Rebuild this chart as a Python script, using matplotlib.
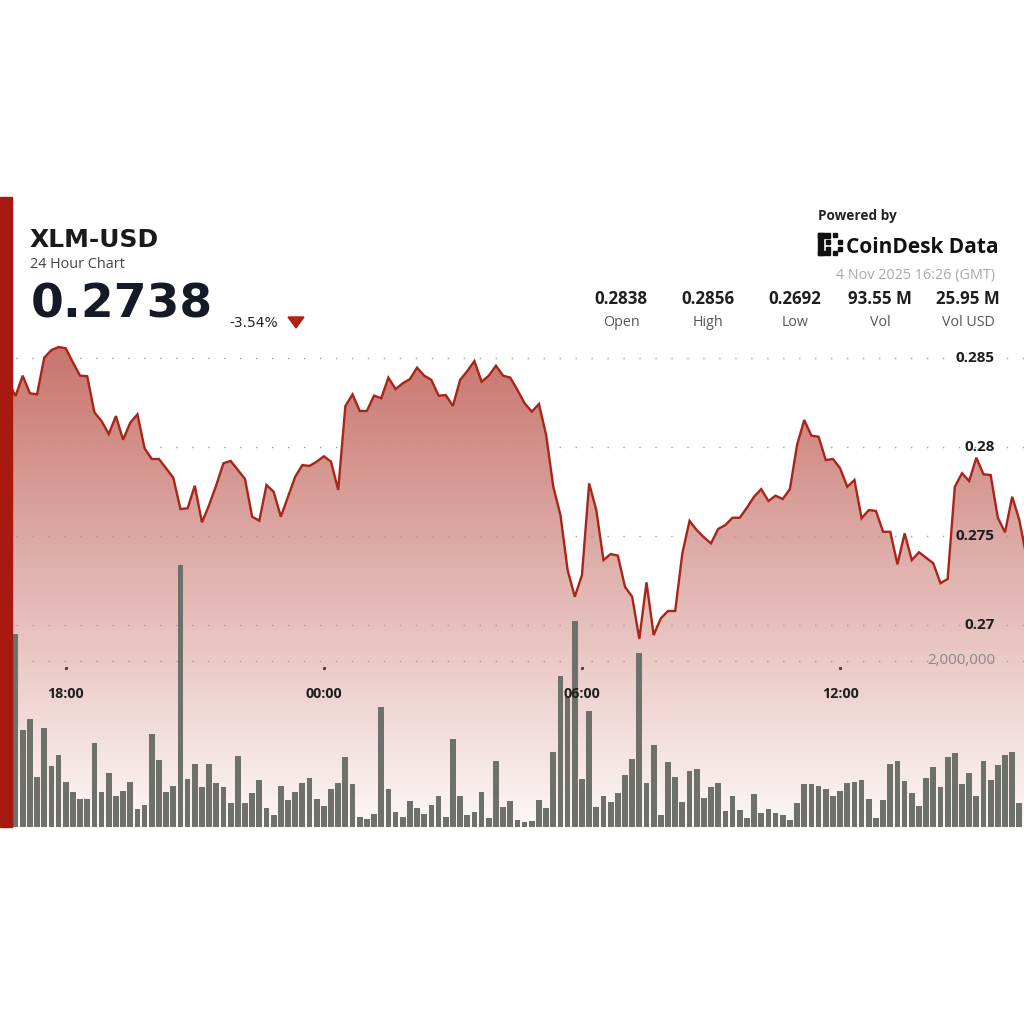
import numpy as np
import pandas as pd
import matplotlib.pyplot as plt
import matplotlib.transforms as mtransforms
from matplotlib.patches import Rectangle, Polygon

# 10 minute samples, 16:30 on 3 Nov to 16:20 on 4 Nov (GMT)
times = pd.date_range("2025-11-03 16:30", periods=144, freq="10min")

price = [
    0.28380, 0.28363, 0.28285, 0.28399, 0.28300, 0.28294, 0.28500, 0.28543, 0.28560, 0.28553,
    0.28474, 0.28399, 0.28396, 0.28193, 0.28144, 0.28071, 0.28172, 0.28039, 0.28135, 0.28182,
    0.27991, 0.27931, 0.27931, 0.27879, 0.27826, 0.27650, 0.27654, 0.27781, 0.27575, 0.27672,
    0.27785, 0.27907, 0.27920, 0.27869, 0.27819, 0.27607, 0.27584, 0.27785, 0.27747, 0.27607,
    0.27719, 0.27831, 0.27897, 0.27892, 0.27916, 0.27946, 0.27916, 0.27757, 0.28229, 0.28294,
    0.28201, 0.28201, 0.28287, 0.28272, 0.28388, 0.28324, 0.28356, 0.28380, 0.28444, 0.28399,
    0.28375, 0.28287, 0.28290, 0.28229, 0.28375, 0.28425, 0.28481, 0.28365, 0.28399, 0.28455,
    0.28399, 0.28388, 0.28319, 0.28244, 0.28197, 0.28240, 0.28066, 0.27775, 0.27616, 0.27307,
    0.27157, 0.27279, 0.27794, 0.27644, 0.27363, 0.27397, 0.27388, 0.27213, 0.27157, 0.26920,
    0.27238, 0.26942, 0.27036, 0.27077, 0.27077, 0.27401, 0.27583, 0.27532, 0.27491, 0.27457,
    0.27538, 0.27560, 0.27601, 0.27601, 0.27657, 0.27719, 0.27762, 0.27695, 0.27725, 0.27706,
    0.27762, 0.28010, 0.28150, 0.28062, 0.28056, 0.27925, 0.27931, 0.27879, 0.27775, 0.27813,
    0.27598, 0.27644, 0.27639, 0.27522, 0.27522, 0.27339, 0.27513, 0.27363, 0.27407, 0.27376,
    0.27345, 0.27233, 0.27257, 0.27775, 0.27851, 0.27807, 0.27938, 0.27845, 0.27841, 0.27601,
    0.27519, 0.27719, 0.27588, 0.27380,
]

volume = [
    1200000, 1807000, 2321000, 1166000, 1295000, 605000, 1187000, 737000, 862000, 538000,
    421000, 333000, 333000, 1010000, 421000, 649000, 376000, 433000, 545000, 213000,
    265000, 1122000, 802000, 421000, 497000, 3151000, 581000, 758000, 485000, 758000,
    529000, 477000, 289000, 857000, 289000, 412000, 569000, 228000, 141000, 493000,
    321000, 421000, 533000, 586000, 337000, 256000, 457000, 526000, 838000, 517000,
    124000, 93000, 156000, 1440000, 457000, 180000, 117000, 309000, 232000, 153000,
    261000, 376000, 120000, 1055000, 373000, 148000, 184000, 421000, 108000, 797000,
    237000, 316000, 84000, 60000, 69000, 325000, 225000, 906000, 1816000, 1567000,
    2477000, 577000, 1395000, 244000, 376000, 304000, 412000, 622000, 814000, 2089000,
    526000, 986000, 144000, 778000, 598000, 304000, 673000, 698000, 345000, 485000,
    533000, 189000, 376000, 204000, 105000, 393000, 165000, 213000, 168000, 144000,
    84000, 292000, 517000, 517000, 493000, 457000, 376000, 433000, 526000, 545000,
    562000, 337000, 108000, 325000, 758000, 794000, 557000, 409000, 249000, 586000,
    722000, 485000, 845000, 890000, 514000, 649000, 376000, 797000, 565000, 742000,
    866000, 906000, 292000, 500000,
]

price_ticks = [0.27, 0.275, 0.28, 0.285]
price_tick_labels = ["0.27", "0.275", "0.28", "0.285"]
vol_ticks = [2000000]
vol_tick_labels = ["2,000,000"]

symbol = "XLM-USD"
subtitle = "24 Hour Chart"
last_price = "0.2738"
change = "-3.54%"
timestamp = "4 Nov 2025 16:26 (GMT)"
stat_values = ["0.2838", "0.2856", "0.2692", "93.55 M", "25.95 M"]
stat_names = ["Open", "High", "Low", "Vol", "Vol USD"]
stat_x = [621, 708, 795, 880, 968]

W = H = 1024
def fx(px):
    return px / W
def fy(py):
    return 1 - py / H

x = np.arange(len(price))
x_lim = (-0.167, 142.65)
p_lim = (0.258635, 0.294028)
v_lim = (0, 7576000)
top_px, bot_px = 197, 827

fig = plt.figure(figsize=(10.24, 10.24), dpi=100)
fig.patch.set_facecolor("white")
rect = [0, fy(bot_px), 1, (bot_px - top_px) / H]

# background gradient + grid
ax = fig.add_axes(rect)
ax.set_xlim(*x_lim)
ax.set_ylim(*p_lim)
ax.axis("off")

n = 400
rows = (np.arange(n) + 0.5) / n
row_px = bot_px - rows * (bot_px - top_px)
alpha = np.interp(row_px, [345, bot_px], [0.74, 0.04])
grad = np.zeros((n, 1, 4))
grad[:, 0, 0] = 0.71
grad[:, 0, 1] = 0.26
grad[:, 0, 2] = 0.22
grad[:, 0, 3] = alpha
im = ax.imshow(grad, aspect="auto", origin="lower",
               extent=[x_lim[0], x_lim[1], p_lim[0], p_lim[1]], zorder=1)
verts = list(zip(x, price)) + [(x[-1], p_lim[0]), (x[0], p_lim[0])]
clip = Polygon(verts, closed=True, facecolor="none", edgecolor="none")
ax.add_patch(clip)
im.set_clip_path(clip)

grid_kw = dict(color="#a0a0a0", lw=1.0, ls=(0, (1, 10.5)), zorder=2)
for t in price_ticks:
    ax.axhline(t, **grid_kw)

# volume bars
axv = fig.add_axes(rect)
axv.set_xlim(*x_lim)
axv.set_ylim(*v_lim)
axv.axis("off")
for t in vol_ticks:
    axv.axhline(t, **grid_kw)
axv.bar(x, volume, width=0.8, color="#6e706b", zorder=3)

# price line
axl = fig.add_axes(rect)
axl.set_xlim(*x_lim)
axl.set_ylim(*p_lim)
axl.axis("off")
axl.plot(x, price, color="#a8251a", lw=1.7, zorder=4, solid_joinstyle="miter")

# axis labels
blend_p = mtransforms.blended_transform_factory(fig.transFigure, axl.transData)
for t, lab in zip(price_ticks, price_tick_labels):
    axl.text(fx(995), t, lab, transform=blend_p, ha="right", va="center",
             fontsize=11, fontweight="bold", color="#1e1e1e", family="Open Sans")
blend_v = mtransforms.blended_transform_factory(fig.transFigure, axv.transData)
for t, lab in zip(vol_ticks, vol_tick_labels):
    axv.text(fx(995), t, lab, transform=blend_v, ha="right", va="center",
             fontsize=10.8, color="#8a8a8a", family="Open Sans")

blend_t = mtransforms.blended_transform_factory(axl.transData, fig.transFigure)
for i, t in enumerate(times):
    if t.minute == 0 and t.hour % 6 == 0:
        axl.text(i, fy(698), t.strftime("%H:%M"), transform=blend_t, ha="center",
                 va="baseline", fontsize=10.3, fontweight="bold", color="#1e1e1e",
                 family="Open Sans")
        axl.plot([i], [fy(667.5)], transform=blend_t, marker="s", ms=1.2,
                 color="#444444", clip_on=False)

# left accent bar
fig.patches.append(Rectangle((0, fy(bot_px)), fx(12), (bot_px - top_px) / H,
                             transform=fig.transFigure, color="#a8190f", zorder=10))

# header left
fig.text(fx(30), fy(247), symbol, fontsize=18, fontweight="bold", color="#1a1a1a",
         va="baseline")
fig.text(fx(30), fy(268), subtitle, fontsize=10.4, color="#444444", family="Open Sans",
         va="baseline")
fig.text(fx(31), fy(318), last_price, fontsize=34, fontweight="bold", color="#141a26",
         va="baseline")
fig.text(fx(229), fy(327), change, fontsize=10, color="#222222", va="baseline")
fig.patches.append(Polygon([(fx(288), fy(317)), (fx(304), fy(317)), (fx(296), fy(328))],
                           closed=True, transform=fig.transFigure, color="#b3200f"))

# header right
fig.text(fx(818), fy(220), "Powered by", fontsize=9.8, fontweight="bold",
         color="#222222", family="Open Sans", va="baseline")
for (px, py, w, h) in [(818, 233, 5, 22), (818, 233, 12, 4.5), (818, 250.5, 12, 4.5),
                       (833, 233, 4, 4), (833, 251, 4, 4), (826, 240, 3.5, 3.5),
                       (826, 247, 3.5, 3.5), (838, 240, 3.5, 3.5), (838, 247, 3.5, 3.5)]:
    fig.patches.append(Rectangle((fx(px), fy(py + h)), w / W, h / H,
                                 transform=fig.transFigure, color="#111111"))
fig.text(fx(846), fy(253), "CoinDesk Data", fontsize=15, fontweight="bold",
         color="#111111", family="Open Sans", va="baseline")
fig.text(fx(995), fy(279), timestamp, fontsize=10.4, color="#a8a8a8",
         family="Open Sans", ha="right", va="baseline")
for sx, val, name in zip(stat_x, stat_values, stat_names):
    fig.text(fx(sx), fy(304), val, fontsize=12.2, fontweight="bold", color="#1e1e1e",
             family="Open Sans", ha="center", va="baseline")
    fig.text(fx(sx), fy(326), name, fontsize=10.3, color="#555555",
             family="Open Sans", ha="center", va="baseline")

fig.savefig("out.png", dpi=100, facecolor="white")
